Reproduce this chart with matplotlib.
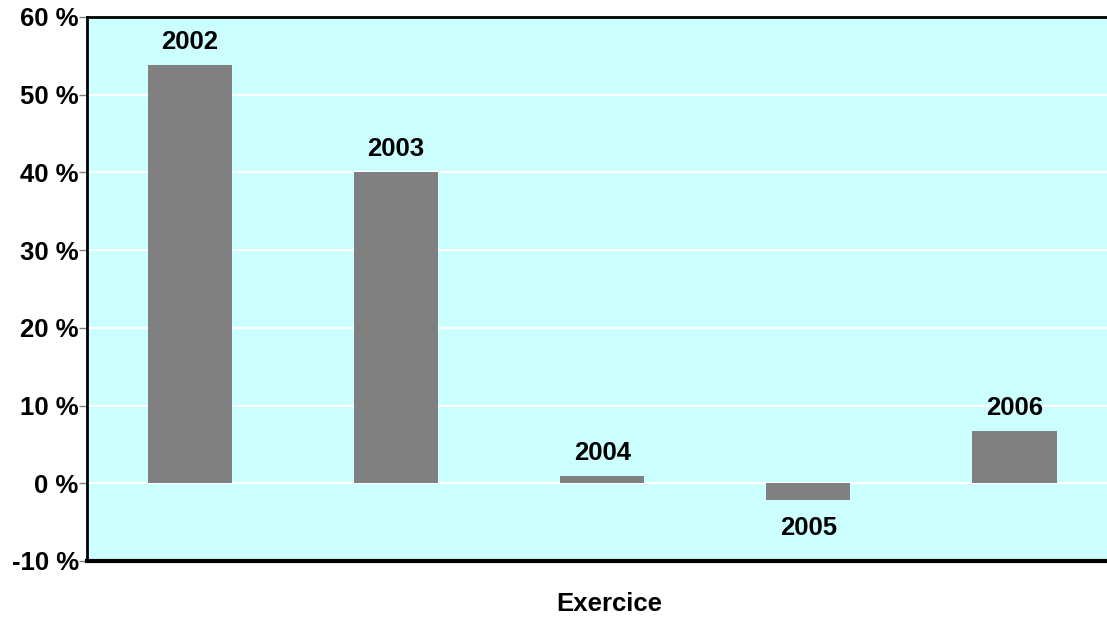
import matplotlib
matplotlib.use('Agg')
import matplotlib.pyplot as plt
import matplotlib.ticker as mticker

# data
years = ['2002', '2003', '2004', '2005', '2006']
values = [53.8, 40.0, 0.9, -2.2, 6.7]
y_ticks = [-10, 0, 10, 20, 30, 40, 50, 60]

plt.rcParams['font.family'] = ['Liberation Sans', 'DejaVu Sans']
plt.rcParams['font.weight'] = 'bold'

fig = plt.figure(figsize=(11.07, 6.19), dpi=100)
ax = fig.add_axes([87 / 1107, 58 / 619, 1020 / 1107, 544 / 619])
ax.set_facecolor('#CCFFFF')

x = list(range(len(years)))
ax.bar(x, values, width=0.41, color='#808080', zorder=3)

# year labels above positive bars, below negative ones
for xi, v, lab in zip(x, values, years):
    if v >= 0:
        ax.annotate(lab, (xi, v), xytext=(0, 8), textcoords='offset points',
                    ha='center', va='bottom', fontsize=18.5, fontweight='bold')
    else:
        ax.annotate(lab, (xi, v), xytext=(0, -11), textcoords='offset points',
                    ha='center', va='top', fontsize=18.5, fontweight='bold')

ax.set_xlim(-0.5, 4.45)
ax.set_ylim(-10, 60)
ax.set_yticks(y_ticks)
ax.yaxis.set_major_formatter(mticker.FuncFormatter(lambda v, p: f'{v:.0f} %'))
ax.tick_params(axis='y', direction='out', length=6, width=1, color='#808080',
               labelsize=18.5, pad=0)
ax.set_xticks([])
ax.grid(axis='y', color='white', linewidth=1.5, zorder=1)

for s in ['left', 'top']:
    ax.spines[s].set_linewidth(2)
    ax.spines[s].set_color('black')
ax.spines['right'].set_visible(False)
ax.spines['bottom'].set_linewidth(3)
ax.spines['bottom'].set_color('black')

ax.set_xlabel('Exercice', fontsize=18.5, fontweight='bold', va='center')
ax.xaxis.set_label_coords(0.512, -0.079)

fig.savefig('out.png', dpi=100)
